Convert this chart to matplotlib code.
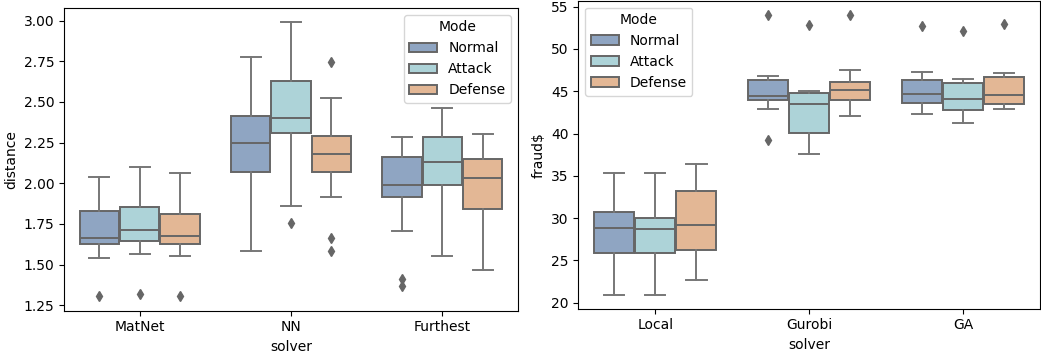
import numpy as np
import matplotlib.pyplot as plt
from matplotlib.patches import Patch

modes = ["Normal", "Attack", "Defense"]
colors = ["#8FA5C2", "#ADD3D8", "#E3B795"]
line_col = "#666666"
whisk_col = "#777777"

# ---- left panel: distance ---- #
solvers_l = ["MatNet", "NN", "Furthest"]
# per solver, per mode: (whislo, q1, med, q3, whishi)
dist_stats = [
    [(1.54, 1.627, 1.664, 1.831, 2.039), (1.567, 1.645, 1.711, 1.852, 2.098), (1.551, 1.625, 1.678, 1.809, 2.063)],
    [(1.582, 2.069, 2.248, 2.414, 2.775), (1.862, 2.310, 2.402, 2.631, 2.992), (1.914, 2.072, 2.180, 2.293, 2.526)],
    [(1.708, 1.914, 1.988, 2.162, 2.287), (1.553, 1.988, 2.131, 2.287, 2.465), (1.465, 1.840, 2.035, 2.152, 2.305)],
]
dist_fliers = [
    [[1.305], [1.321], [1.305]],
    [[], [1.756], [2.746, 1.664, 1.582]],
    [[1.41, 1.368], [], []],
]

# ---- right panel: fraud$ ---- #
solvers_r = ["Local", "Gurobi", "GA"]
fraud_stats = [
    [(20.91, 25.91, 28.87, 30.69, 35.37), (20.91, 25.84, 28.68, 30.05, 35.37), (22.68, 26.27, 29.22, 33.21, 36.36)],
    [(42.94, 43.97, 44.48, 46.30, 46.77), (37.58, 40.03, 43.49, 44.80, 45.03), (42.08, 43.97, 45.15, 46.10, 47.51)],
    [(42.31, 43.58, 44.71, 46.37, 47.28), (41.21, 42.75, 44.12, 45.98, 46.45), (42.94, 43.46, 44.56, 46.72, 47.16)],
]
fraud_fliers = [
    [[], [], []],
    [[54.05, 39.20], [52.84], [53.98]],
    [[52.72], [52.16], [52.92]],
]


def draw(ax, solvers, stats, fliers):
    w = 0.8 / 3
    for i, name in enumerate(solvers):
        for j in range(3):
            lo, q1, med, q3, hi = stats[i][j]
            s = dict(whislo=lo, q1=q1, med=med, q3=q3, whishi=hi, fliers=fliers[i][j])
            pos = i + (j - 1) * w
            ax.bxp([s], positions=[pos], widths=w * 0.98, patch_artist=True,
                   showfliers=True, capwidths=w * 0.5,
                   boxprops=dict(facecolor=colors[j], edgecolor=line_col, linewidth=1.4),
                   medianprops=dict(color=line_col, linewidth=1.4),
                   whiskerprops=dict(color=whisk_col, linewidth=1.4),
                   capprops=dict(color=whisk_col, linewidth=1.4),
                   flierprops=dict(marker="d", markerfacecolor=line_col,
                                   markeredgecolor=line_col, markersize=5))
    ax.set_xticks(range(len(solvers)))
    ax.set_xticklabels(solvers)
    ax.set_xlim(-0.5, len(solvers) - 0.5)
    ax.set_xlabel("solver")


fig = plt.figure(figsize=(10.41, 3.52), dpi=100)
ax1 = fig.add_axes([0.0615, 0.1173, 0.4361, 0.8600])
ax2 = fig.add_axes([0.5555, 0.1230, 0.4435, 0.8750])

draw(ax1, solvers_l, dist_stats, dist_fliers)
ax1.set_ylim(1.2165, 3.078)
ax1.set_yticks([1.25, 1.5, 1.75, 2.0, 2.25, 2.5, 2.75, 3.0])
ax1.set_yticklabels(["1.25", "1.50", "1.75", "2.00", "2.25", "2.50", "2.75", "3.00"])
ax1.set_ylabel("distance")

draw(ax2, solvers_r, fraud_stats, fraud_fliers)
ax2.set_ylim(19.29, 55.7)
ax2.set_yticks([20, 25, 30, 35, 40, 45, 50, 55])
ax2.set_ylabel("fraud$")

handles = [Patch(facecolor=c, edgecolor=line_col, linewidth=1.4, label=m) for m, c in zip(modes, colors)]
ax1.legend(handles=handles, title="Mode", loc="upper right")
ax2.legend(handles=handles, title="Mode", loc="upper left")

plt.savefig("out.png", dpi=100)
